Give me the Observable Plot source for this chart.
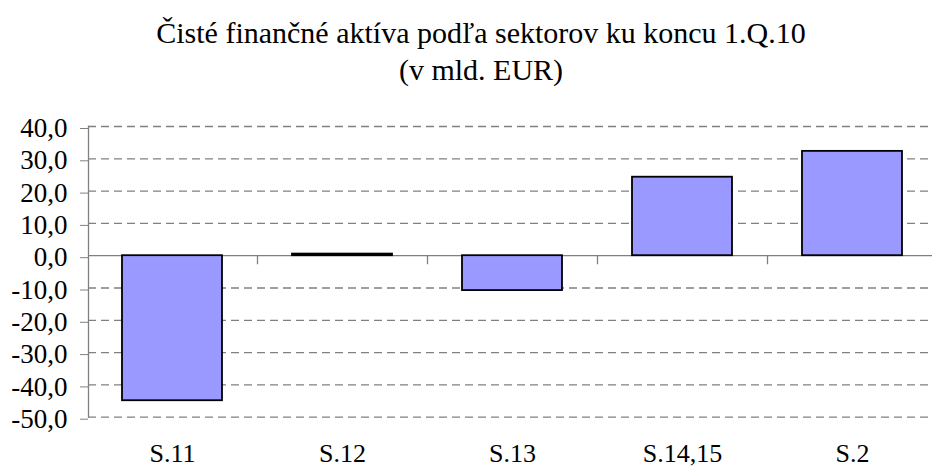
<!DOCTYPE html>
<html>
<head>
<meta charset="utf-8">
<script src="https://cdn.jsdelivr.net/npm/d3@7"></script>
<script src="https://cdn.jsdelivr.net/npm/@observablehq/plot@0.6"></script>
<style>
  html, body { margin: 0; padding: 0; background: #fff; }
  #title {
    width: 932px; height: 100px; box-sizing: border-box;
    padding-top: 14px; padding-left: 30px;
    text-align: center; font-family: "Liberation Serif", "Times New Roman", serif;
    font-size: 30px; line-height: 37px; color: #000;
  }
</style>
</head>
<body>
<div id="title">Čisté finančné aktíva podľa sektorov ku koncu 1.Q.10<br>(v mld. EUR)</div>
<div id="chart"></div>
<script>
const categories = ["S.11", "S.12", "S.13", "S.14,15", "S.2"];
const values = [-44.9, 0.5, -10.8, 24.3, 32.3];
const yTicks = [-50, -40, -30, -20, -10, 0, 10, 20, 30, 40];

const data = categories.map((c, i) => ({cat: c, value: values[i]}));
const width = 932, height = 368;
const xRange = [87, 937];
const step = (xRange[1] - xRange[0]) / categories.length;
const fmt = d => d.toFixed(1).replace(".", ",");

const chart = Plot.plot({
  width, height,
  marginTop: 26, marginBottom: 51.3, marginLeft: 88, marginRight: 0,
  style: {fontFamily: "'Liberation Serif', 'Times New Roman', serif", fontSize: "26px", color: "#000", background: "#fff", overflow: "hidden"},
  x: {type: "band", domain: categories, range: xRange, paddingInner: 0.41, paddingOuter: 0.205, label: null},
  y: {domain: [-50, 40], label: null},
  marks: [
    Plot.ruleY(yTicks.filter(d => d !== 0), {y: d => d, stroke: "#808080", strokeWidth: 1.3, strokeDasharray: "8,5"}),
    Plot.frame({anchor: "left", stroke: "#808080", strokeWidth: 1.3}),
    Plot.ruleY([0], {stroke: "#808080", strokeWidth: 1.3}),
    Plot.ruleX(categories, {x: d => d, y1: 0, y2: -2.8, dx: step / 2, stroke: "#808080", strokeWidth: 1.3}),
    Plot.barY(data, {x: "cat", y: "value", fill: "#9999ff", stroke: "#000", strokeWidth: 1.8}),
    Plot.axisY({ticks: yTicks, tickSize: 8, tickPadding: 13, tickFormat: fmt, stroke: "#808080", fill: "#000", fontSize: 27, dy: 2}),
    Plot.axisX({tickSize: 0, tickPadding: 26, fontSize: 26, fill: "#000"})
  ]
});
document.getElementById("chart").appendChild(chart);
</script>
</body>
</html>
